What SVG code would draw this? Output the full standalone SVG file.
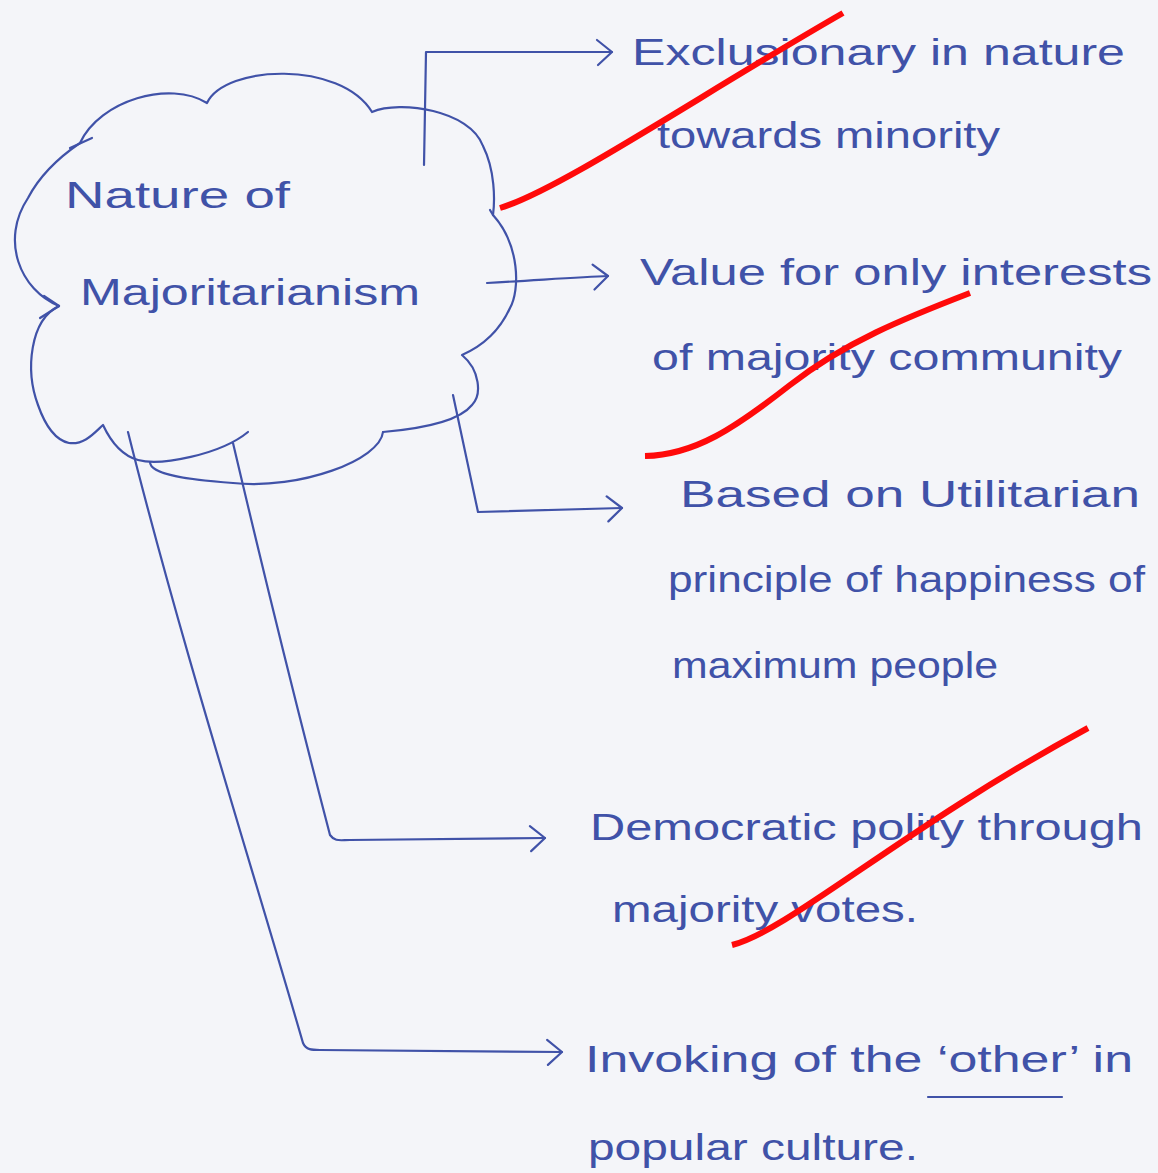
<svg xmlns="http://www.w3.org/2000/svg" width="1158" height="1173" viewBox="0 0 1158 1173">
<style>
.ink{fill:none;stroke:#4052a8;stroke-width:2.2;stroke-linecap:round;stroke-linejoin:round}
.t{font-family:"Liberation Sans","DejaVu Sans",sans-serif;font-size:36px;fill:#4052a8}
.strike{fill:none;stroke:#ff0a0a;stroke-width:6;stroke-linecap:butt}
</style>
<defs>
<marker id="chev" viewBox="-20 -16 24 32" markerWidth="24" markerHeight="32" refX="0" refY="0" orient="auto" markerUnits="userSpaceOnUse">
<path d="M-15,-12 L0,0 L-14,13" fill="none" stroke="#4052a8" stroke-width="2.2" stroke-linecap="round" stroke-linejoin="round"/>
</marker>
</defs>
<rect width="1158" height="1173" fill="#f4f5f9"/>

<g id="cloud">
<path class="ink" d="M59,306 C20,290 0,240 28,198 C40,175 58,158 80,143 C100,100 170,80 207,103 C225,65 340,60 372,112 C400,100 470,110 483,146 C495,170 495,200 493,215 C520,245 520,290 510,308 C500,330 485,345 462,355 C480,370 482,395 472,405 C460,420 430,428 383,432"/>
<path class="ink" d="M490,210 L493,215"/>
<path class="ink" d="M383,432 C380,460 300,490 233,483 C190,480 150,475 150,462"/>
<path class="ink" d="M59,306 C30,320 25,370 38,405 C45,425 55,440 69,443 C85,445 95,432 103,425 C110,440 120,455 138,460 C160,466 220,455 248,432"/>
<path class="ink" d="M70,148 L92,138"/>
<path class="ink" d="M44,296 L59,306 L40,318"/>
<text class="t" x="65" y="208" textLength="225" lengthAdjust="spacingAndGlyphs">Nature of</text>
<text class="t" x="80" y="305" textLength="340" lengthAdjust="spacingAndGlyphs">Majoritarianism</text>
</g>

<g id="connectors">
<path class="ink" d="M424,165 L426,52 L612,52" marker-end="url(#chev)"/>
<path class="ink" d="M487,283 C540,280 580,277 608,276" marker-end="url(#chev)"/>
<path class="ink" d="M453,395 L478,512 L622,508" marker-end="url(#chev)"/>
<path class="ink" d="M233,443 C270,600 300,720 330,835 C335,842 340,840 350,840 L545,838" marker-end="url(#chev)"/>
<path class="ink" d="M128,432 C180,640 250,860 303,1043 C306,1050 312,1050 320,1050 L562,1052" marker-end="url(#chev)"/>
</g>

<g id="n1">
<text class="t" x="632" y="65" textLength="493" lengthAdjust="spacingAndGlyphs">Exclusionary in nature</text>
<text class="t" x="657" y="148" textLength="343" lengthAdjust="spacingAndGlyphs">towards minority</text>
</g>
<g id="n2">
<text class="t" x="640" y="285" textLength="512" lengthAdjust="spacingAndGlyphs">Value for only interests</text>
<text class="t" x="652" y="370" textLength="470" lengthAdjust="spacingAndGlyphs">of majority community</text>
</g>
<g id="n3">
<text class="t" x="680" y="507" textLength="460" lengthAdjust="spacingAndGlyphs">Based on Utilitarian</text>
<text class="t" x="668" y="592" textLength="477" lengthAdjust="spacingAndGlyphs">principle of happiness of</text>
<text class="t" x="672" y="678" textLength="326" lengthAdjust="spacingAndGlyphs">maximum people</text>
</g>
<g id="n4">
<text class="t" x="590" y="840" textLength="553" lengthAdjust="spacingAndGlyphs">Democratic polity through</text>
<text class="t" x="612" y="922" textLength="306" lengthAdjust="spacingAndGlyphs">majority votes.</text>
</g>
<g id="n5">
<text class="t" x="585" y="1072" textLength="548" lengthAdjust="spacingAndGlyphs">Invoking of the ‘other’ in</text>
<path class="ink" d="M928,1097 L1062,1097"/>
<text class="t" x="588" y="1160" textLength="330" lengthAdjust="spacingAndGlyphs">popular culture.</text>
</g>

<g id="strikes">
<path class="strike" d="M500,208 C560,190 700,95 843,13"/>
<path class="strike" d="M645,456 C695,455 735,428 790,385 S905,318 970,293"/>
<path class="strike" d="M732,945 C790,930 900,830 1088,728"/>
</g>
</svg>
